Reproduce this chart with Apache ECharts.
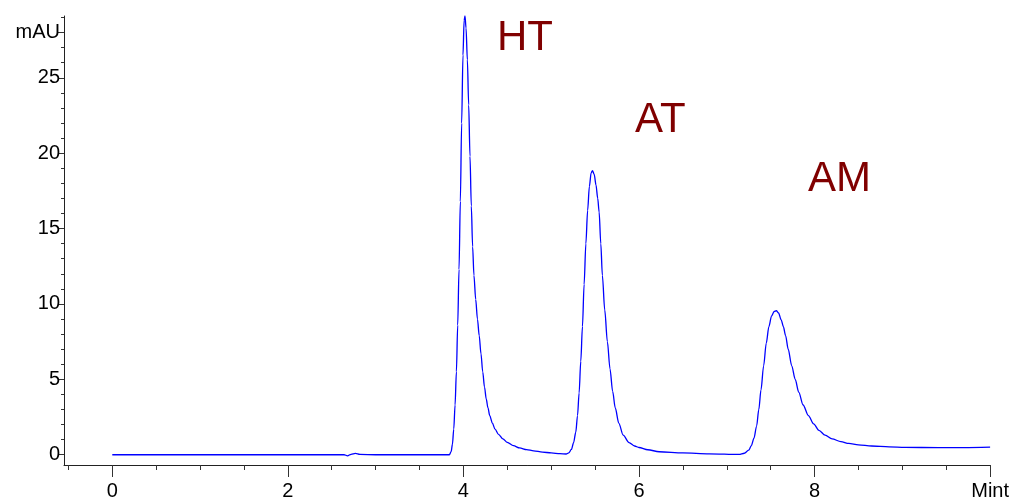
<!DOCTYPE html>
<html>
<head>
<meta charset="utf-8">
<script src="https://cdn.jsdelivr.net/npm/echarts@6/dist/echarts.min.js"></script>
<style>
html,body{margin:0;padding:0;background:#fff;}
#c{width:1012px;height:501px;}
</style>
</head>
<body>
<div id="c"></div>
<script>
// retention time (min)
const times = [0, 0.5, 1.0, 1.5, 2.0, 2.5, 2.64, 2.68, 2.72, 2.77, 2.82, 3.0, 3.5, 3.8, 3.84,
  3.86, 3.875, 3.89, 3.905, 3.92, 3.935, 3.95, 3.965, 3.98, 3.995, 4.008, 4.018, 4.03, 4.045, 4.06, 4.075, 4.09, 4.105, 4.12, 4.14, 4.16, 4.18, 4.20, 4.22, 4.24, 4.26, 4.28, 4.30, 4.33, 4.36, 4.40, 4.45, 4.5, 4.57, 4.64, 4.72, 4.8, 4.9, 5.0, 5.1, 5.17,
  5.2, 5.23, 5.255, 5.28, 5.30, 5.318, 5.337, 5.356, 5.375, 5.395, 5.415, 5.435, 5.455, 5.47, 5.49, 5.51, 5.53, 5.546, 5.565, 5.583, 5.61, 5.64, 5.67, 5.70, 5.73, 5.77, 5.82, 5.887, 5.95, 6.0, 6.1, 6.23, 6.5, 6.8, 7.14,
  7.2, 7.25, 7.28, 7.31, 7.34, 7.365, 7.39, 7.42, 7.45, 7.48, 7.51, 7.54, 7.565, 7.59, 7.62, 7.645, 7.67, 7.70, 7.74, 7.78, 7.82, 7.87, 7.93, 7.99, 8.05, 8.12, 8.2, 8.3, 8.39, 8.5, 8.65, 8.85, 9.03, 9.41, 9.7, 10.0];
// absorbance (mAU)
const absorbance = [0, 0, 0, 0, 0, 0, 0, -0.07, 0.03, 0.09, 0.02, 0, 0, 0, 0,
  0.2, 0.7, 1.7, 3.3, 5.5, 8.6, 12.3, 16.8, 22, 26.5, 28.8, 29.1, 28.3, 26.2, 23.2, 19.8, 16.5, 13.8, 11.9, 10.3, 9.0, 7.9, 6.7, 5.5, 4.5, 3.7, 3.1, 2.6, 2.1, 1.7, 1.35, 1.05, 0.82, 0.6, 0.45, 0.34, 0.26, 0.18, 0.12, 0.07, 0.05,
  0.12, 0.35, 0.8, 1.5, 2.6, 4.1, 6.2, 8.5, 11.3, 14.0, 16.2, 17.8, 18.7, 18.85, 18.6, 17.9, 17.0, 16.1, 14.0, 11.9, 9.6, 7.5, 5.7, 4.2, 3.1, 2.1, 1.3, 0.8, 0.58, 0.48, 0.33, 0.2, 0.12, 0.06, 0.02,
  0.1, 0.3, 0.6, 1.1, 1.9, 3.0, 4.3, 5.9, 7.4, 8.5, 9.2, 9.5, 9.55, 9.4, 8.95, 8.5, 7.9, 7.0, 5.9, 5.0, 4.15, 3.3, 2.6, 2.05, 1.62, 1.3, 1.05, 0.87, 0.75, 0.66, 0.58, 0.52, 0.49, 0.47, 0.47, 0.5];

const peakNames = ['HT', 'AT', 'AM'];

const xMajorTicks = [0, 2, 4, 6, 8, 10];
const xMinorTicks = [-0.5, 0.5, 1, 1.5, 2.5, 3, 3.5, 4.5, 5, 5.5, 6.5, 7, 7.5, 8.5, 9, 9.5];
const xUnitLabel = 'Mint';
const yMajorTicks = [0, 5, 10, 15, 20, 25, 28];
const yMinorTicks = [1, 2, 3, 4, 6, 7, 8, 9, 11, 12, 13, 14, 16, 17, 18, 19, 21, 22, 23, 24, 26, 27, 29];
const yUnitLabel = 'mAU';
const yUnitAt = 28;

const X_MIN = -0.55, X_MAX = 10;
const Y_MIN = -0.68, Y_MAX = 29.1;

const FONT = '"Liberation Sans", Arial, sans-serif';
const chart = echarts.init(document.getElementById('c'), null, {renderer: 'canvas'});

const lineStyleAxis = {color: '#222', width: 1};
const data = times.map((t, i) => [t, absorbance[i]]);

chart.setOption({
  animation: false,
  backgroundColor: '#fff',
  grid: {left: 64, right: 20, top: 16, bottom: 35, containLabel: false},
  xAxis: [
    {
      type: 'value', min: X_MIN, max: X_MAX, position: 'bottom',
      axisLine: {show: true, onZero: false, lineStyle: lineStyleAxis},
      axisTick: {show: true, length: 5, customValues: xMinorTicks, lineStyle: {color: '#333'}},
      axisLabel: {show: false},
      splitLine: {show: false}
    },
    {
      type: 'value', min: X_MIN, max: X_MAX, position: 'bottom',
      axisLine: {show: false, onZero: false},
      axisTick: {show: true, length: 12, customValues: xMajorTicks, lineStyle: {color: '#333'}},
      axisLabel: {
        show: true, customValues: xMajorTicks, margin: 16,
        fontSize: 20, color: '#000', fontFamily: FONT,
        formatter: v => (v === X_MAX ? xUnitLabel : String(v))
      },
      splitLine: {show: false}
    }
  ],
  yAxis: [
    {
      type: 'value', min: Y_MIN, max: Y_MAX, position: 'left',
      axisLine: {show: true, onZero: false, lineStyle: lineStyleAxis},
      axisTick: {show: true, length: 3, customValues: yMinorTicks, lineStyle: {color: '#333'}},
      axisLabel: {show: false},
      splitLine: {show: false}
    },
    {
      type: 'value', min: Y_MIN, max: Y_MAX, position: 'left',
      axisLine: {show: false, onZero: false},
      axisTick: {show: true, length: 6, customValues: yMajorTicks, lineStyle: {color: '#333'}},
      axisLabel: {
        show: true, customValues: yMajorTicks, margin: 4,
        fontSize: 20, color: '#000', fontFamily: FONT,
        formatter: v => (v === yUnitAt ? yUnitLabel : String(v))
      },
      splitLine: {show: false}
    }
  ],
  series: [{
    type: 'line',
    data: data,
    xAxisIndex: 0, yAxisIndex: 0,
    showSymbol: false,
    smooth: 0.3,
    smoothMonotone: 'x',
    clip: false,
    lineStyle: {color: '#0000ff', width: 1.3}
  }],
  graphic: [
    {type: 'text', left: 497, top: 17, style: {text: peakNames[0], font: '42px ' + FONT, fill: '#800000'}},
    {type: 'text', left: 635, top: 99, style: {text: peakNames[1], font: '42px ' + FONT, fill: '#800000'}},
    {type: 'text', left: 808, top: 158, style: {text: peakNames[2], font: '42px ' + FONT, fill: '#800000'}}
  ]
});
</script>
</body>
</html>
